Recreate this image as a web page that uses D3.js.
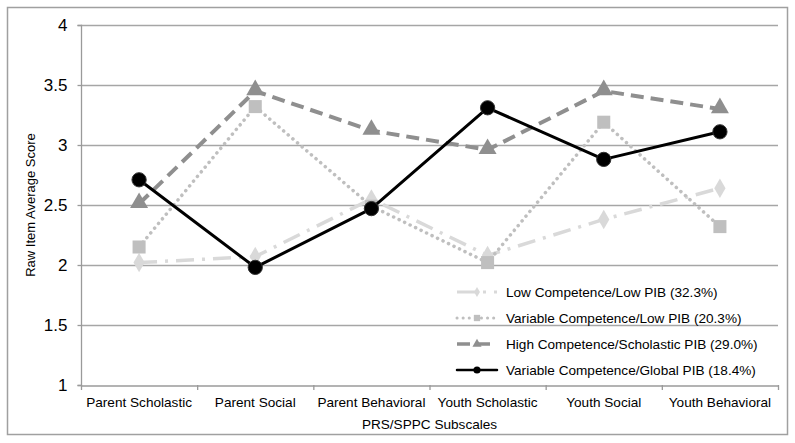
<!DOCTYPE html>
<html><head><meta charset="utf-8">
<script src="https://cdn.jsdelivr.net/npm/d3@7"></script>
<style>body{margin:0;background:#fff}svg{display:block}text{font-family:"Liberation Sans",Arial,sans-serif;fill:#000}</style>
</head><body>
<script>
const categories=["Parent Scholastic","Parent Social","Parent Behavioral","Youth Scholastic","Youth Social","Youth Behavioral"];
const yTicks=[1,1.5,2,2.5,3,3.5,4];
const lowLow=[2.02,2.07,2.55,2.08,2.38,2.64];
const varLow=[2.15,3.32,2.49,2.02,3.19,2.32];
const highSch=[2.51,3.45,3.12,2.96,3.45,3.30];
const varGlobal=[2.71,1.98,2.47,3.31,2.88,3.11];
const seriesNames=["Low Competence/Low PIB (32.3%)","Variable Competence/Low PIB (20.3%)","High Competence/Scholastic PIB (29.0%)","Variable Competence/Global PIB (18.4%)"];

const W=795,H=443;
const svg=d3.select("body").append("svg").attr("width",W).attr("height",H);
svg.append("rect").attr("x",7.5).attr("y",7.5).attr("width",780).attr("height",427).attr("fill","#fff").attr("stroke","#a0a0a0").attr("stroke-width",1.5);
const L=81,R=778,T=25,B=385;
const x=d3.scaleBand().domain(categories).range([L,R]);
const y=d3.scaleLinear().domain([1,4]).range([B,T]);

svg.append("g").selectAll("line").data(yTicks.slice(1)).join("line")
 .attr("x1",L).attr("x2",R).attr("y1",d=>y(d)+.5).attr("y2",d=>y(d)+.5).attr("stroke","#a6a6a6").attr("stroke-width",1.3);
const ya=svg.append("g").attr("transform",`translate(${L+.5},0)`).call(d3.axisLeft(y).tickValues(yTicks).tickSize(4).tickPadding(10).tickFormat(d3.format("")));
ya.select(".domain").attr("stroke","#9a9a9a").attr("stroke-width",1.3).attr("d",`M-4,${T+.5}H0V${B+.5}H-4`);
ya.selectAll(".tick line").attr("stroke","#9a9a9a").attr("stroke-width",1.3);
ya.selectAll(".tick text").style("font-size","17px").style("font-family","'Liberation Sans',Arial,sans-serif").attr("fill","#000");
const xa=svg.append("g").attr("transform",`translate(0,${B+.5})`).call(d3.axisBottom(x).tickSize(0).tickPadding(12));
xa.select(".domain").attr("stroke","#9a9a9a").attr("stroke-width",1.3);
xa.selectAll(".tick text").style("font-size","13.6px").style("font-family","'Liberation Sans',Arial,sans-serif").attr("fill","#000");
const bounds=categories.map(c=>x(c)).concat([R]);
svg.append("g").selectAll("line").data(bounds).join("line").attr("x1",d=>d+.5).attr("x2",d=>d+.5).attr("y1",B).attr("y2",B+5).attr("stroke","#9a9a9a").attr("stroke-width",1.3);

svg.append("text").attr("x",(L+R)/2).attr("y",429).attr("text-anchor","middle").style("font-size","13.6px").text("PRS/SPPC Subscales");
svg.append("text").attr("transform",`translate(35,${(T+B)/2}) rotate(-90)`).attr("text-anchor","middle").style("font-size","13px").text("Raw Item Average Score");

const cx=c=>x(c)+x.bandwidth()/2;
const line=d3.line().x((d,i)=>cx(categories[i])).y(d=>y(d));
const styles=[
 {data:lowLow,color:"#d9d9d9",mcolor:"#d9d9d9",dash:"18,8,3,8",w:3.5,cap:"butt",shape:d3.symbolDiamond,size:110,lsize:30},
 {data:varLow,color:"#bfbfbf",mcolor:"#bfbfbf",dash:"0.1,6",w:3.5,cap:"round",shape:d3.symbolSquare,size:170,lsize:40},
 {data:highSch,color:"#8f8f8f",mcolor:"#8f8f8f",dash:"13,7",w:4,cap:"butt",shape:d3.symbolTriangle,size:140,lsize:36},
 {data:varGlobal,color:"#000",mcolor:"#000",dash:null,w:3,cap:"round",shape:d3.symbolCircle,size:160,lsize:40}
];
styles.forEach(s=>{
 svg.append("path").attr("d",line(s.data)).attr("fill","none").attr("stroke",s.color).attr("stroke-width",s.w).attr("stroke-dasharray",s.dash).attr("stroke-linecap",s.cap).attr("stroke-linejoin","round");
 svg.append("g").selectAll("path").data(s.data).join("path")
  .attr("transform",(d,i)=>`translate(${cx(categories[i])},${y(d)+(s.shape===d3.symbolTriangle?-1:0)})`)
  .attr("d",d3.symbol(s.shape,s.size)).attr("fill",s.mcolor).attr("stroke",s.shape===d3.symbolCircle?"#333":"none").attr("stroke-width",1);
});
const lg=svg.append("g");
styles.forEach((s,i)=>{
 const ly=292+i*26;
 lg.append("line").attr("x1",457).attr("x2",497).attr("y1",ly).attr("y2",ly).attr("stroke",s.color).attr("stroke-width",s.w-0.5).attr("stroke-dasharray",s.dash).attr("stroke-linecap",s.cap);
 lg.append("path").attr("transform",`translate(477,${ly})`).attr("d",d3.symbol(s.shape,s.lsize)).attr("fill",s.mcolor);
 lg.append("text").attr("x",506).attr("y",ly+5).style("font-size","13.6px").text(seriesNames[i]);
});
</script>
</body></html>
